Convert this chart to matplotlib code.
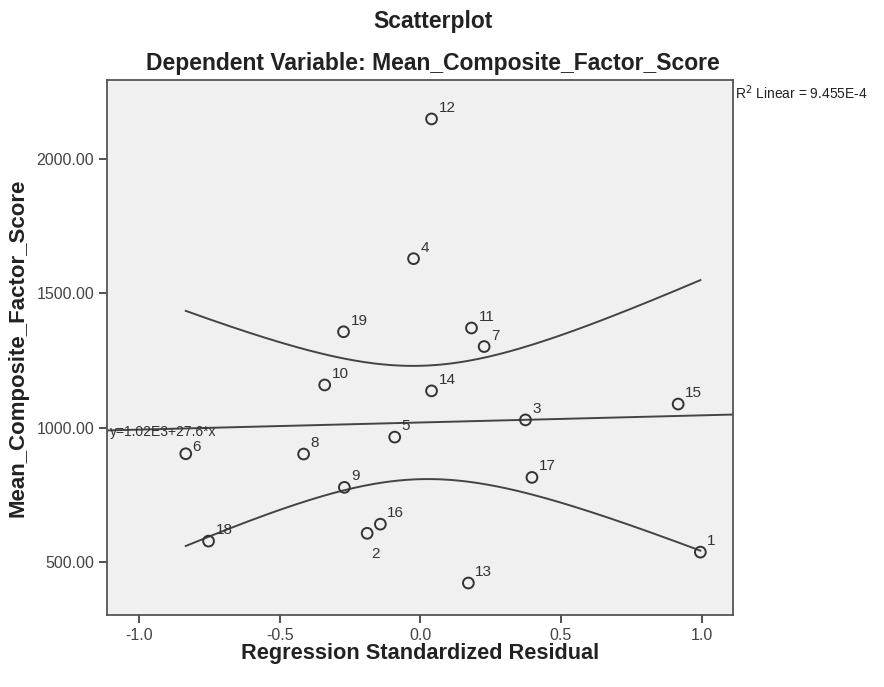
import numpy as np
import matplotlib
matplotlib.use("Agg")
import matplotlib.pyplot as plt

plt.rcParams['font.family'] = ['Liberation Sans', 'DejaVu Sans']

# --- Data (case number, standardized residual, score) ---
case_ids = [1, 2, 3, 4, 5, 6, 7, 8, 9, 10, 11, 12, 13, 14, 15, 16, 17, 18, 19]
std_resid = [0.996, -0.189, 0.374, -0.024, -0.091, -0.834, 0.227, -0.415, -0.270, -0.340,
             0.182, 0.040, 0.171, 0.040, 0.917, -0.142, 0.397, -0.753, -0.273]
score = [537, 607, 1029, 1629, 965, 903, 1302, 902, 778, 1159,
         1371, 2149, 422, 1137, 1088, 641, 815, 578, 1357]

x_ticks = [-1.0, -0.5, 0.0, 0.5, 1.0]
y_ticks = [500, 1000, 1500, 2000]

x = np.array(std_resid)
y = np.array(score)
n = len(x)

# --- Linear fit and 95% mean confidence band ---
slope, intercept = np.polyfit(x, y, 1)
resid = y - (intercept + slope * x)
s = np.sqrt(np.sum(resid ** 2) / (n - 2))
sxx = np.sum((x - x.mean()) ** 2)
t_crit = 2.110  # t(0.975, df=17)

xs = np.linspace(x.min(), x.max(), 200)
ys = intercept + slope * xs
half = t_crit * s * np.sqrt(1 / n + (xs - x.mean()) ** 2 / sxx)

xlim = (-1.113, 1.113)

fig = plt.figure(figsize=(8.84, 6.87), dpi=100)
ax = fig.add_axes([0.1214, 0.1048, 0.7081, 0.7788])
ax.set_facecolor('#f0f0f0')

line_col = '#444444'
xl = np.array(xlim)
ax.plot(xl, intercept + slope * xl, color=line_col, lw=1.4)
ax.plot(xs, ys + half, color=line_col, lw=1.4)
ax.plot(xs, ys - half, color=line_col, lw=1.4)

ax.scatter(x, y, s=60, facecolors='none', edgecolors='#333333', linewidths=1.4, zorder=3)

for cid, xi, yi in zip(case_ids, x, y):
    if cid == 2:
        off = (3, -18)
    elif cid == 6:
        off = (5, 2)
    else:
        off = (5, 5)
    ax.annotate(str(cid), (xi, yi), xytext=off, textcoords='offset points',
                fontsize=11, color='#333333')

ax.text(xlim[0] + 0.01, intercept + slope * (xlim[0] + 0.01) - 6, 'y=1.02E3+27.6*x',
        fontsize=10, color='#333333', va='center', ha='left')

ax.set_xlim(xlim)
ax.set_ylim(303, 2294)
ax.set_xticks(x_ticks)
ax.set_xticklabels([f"{v:.1f}" for v in x_ticks])
ax.set_yticks(y_ticks)
ax.set_yticklabels([f"{v:.2f}" for v in y_ticks])
ax.tick_params(direction='out', length=6, width=1.2, colors='#333333', labelsize=11.5,
               labelcolor='#444444')
for sp in ax.spines.values():
    sp.set_color('#555555')
    sp.set_linewidth(1.3)

ax.set_xlabel('Regression Standardized Residual', fontsize=15.7, fontweight='bold',
              color='#222222', labelpad=0)
ax.set_ylabel('Mean_Composite_Factor_Score', fontsize=16, fontweight='bold',
              color='#222222', labelpad=6)

fig.text(0.49, 0.968, 'Scatterplot', fontsize=16.5, fontweight='bold', ha='center',
         va='center', color='#222222')
fig.text(0.49, 0.908, 'Dependent Variable: Mean_Composite_Factor_Score', fontsize=16.5,
         fontweight='bold', ha='center', va='center', color='#222222')
fig.text(0.832, 0.865, r'R$^2$ Linear = 9.455E-4', fontsize=10, ha='left', va='center',
         color='#222222')

fig.savefig('out.png', dpi=100)
